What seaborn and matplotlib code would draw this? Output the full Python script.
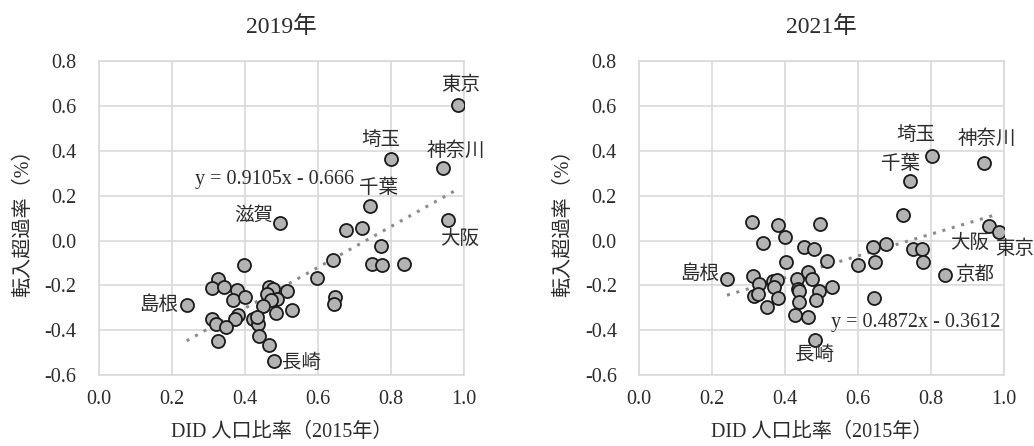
import numpy as np
import pandas as pd
import seaborn as sns
import matplotlib.pyplot as plt


# data (DID ratio 2015, net in-migration rate %)
x_2019 = [0.983, 0.800, 0.943, 0.742, 0.955, 0.495, 0.240, 0.479,
          0.677, 0.722, 0.774, 0.749, 0.776, 0.836, 0.640, 0.397, 0.597, 0.647, 0.644,
          0.326, 0.311, 0.342, 0.377, 0.368, 0.401, 0.467, 0.478, 0.514, 0.460,
          0.487, 0.470, 0.450, 0.485, 0.528, 0.382, 0.372, 0.311, 0.320, 0.347,
          0.327, 0.423, 0.436, 0.434, 0.439, 0.465]
y_2019 = [0.606, 0.364, 0.324, 0.154, 0.092, 0.077, -0.288, -0.536,
          0.046, 0.058, -0.025, -0.104, -0.107, -0.104, -0.085, -0.111, -0.166, -0.251, -0.284,
          -0.171, -0.211, -0.208, -0.221, -0.267, -0.252, -0.209, -0.218, -0.224, -0.240,
          -0.261, -0.267, -0.292, -0.321, -0.310, -0.330, -0.349, -0.352, -0.370, -0.387,
          -0.448, -0.352, -0.373, -0.340, -0.426, -0.468]
names_2019 = ["東京", "埼玉", "神奈川", "千葉", "大阪", "滋賀", "島根", "長崎"]
offsets_2019 = [(3, 20), (-10, 19), (13, 17), (9, 18), (12, -19), (-26, 7), (-28, 1), (28, -2)]

x_2021 = [0.803, 0.945, 0.743, 0.958, 0.985, 0.837, 0.241, 0.482,
          0.723, 0.678, 0.642, 0.751, 0.776, 0.777, 0.647, 0.600, 0.644,
          0.310, 0.381, 0.497, 0.341, 0.399, 0.452, 0.479, 0.402, 0.514, 0.313,
          0.328, 0.314, 0.326, 0.367, 0.377, 0.370, 0.381, 0.350, 0.433, 0.463,
          0.474, 0.436, 0.439, 0.492, 0.485, 0.530, 0.437, 0.427, 0.464]
y_2021 = [0.376, 0.344, 0.264, 0.064, 0.039, -0.154, -0.171, -0.442,
          0.113, -0.015, -0.031, -0.040, -0.037, -0.096, -0.096, -0.108, -0.255,
          0.083, 0.071, 0.074, -0.009, 0.015, -0.028, -0.039, -0.095, -0.091, -0.157,
          -0.194, -0.248, -0.238, -0.181, -0.174, -0.206, -0.257, -0.297, -0.171, -0.140,
          -0.171, -0.217, -0.227, -0.224, -0.263, -0.209, -0.276, -0.331, -0.343]
names_2021 = ["埼玉", "神奈川", "千葉", "大阪", "東京", "京都", "島根", "長崎"]
offsets_2021 = [(-16, 21), (3, 25), (-10, 17), (-19, -17), (16, -17), (30, 0), (-27, 5), (0, -15)]

# trend lines as shown on the chart
trend_2019 = (0.9105, -0.666)
trend_2021 = (0.4872, -0.3612)
eq_pos_2019 = (0.482, 0.272)
eq_pos_2021 = (0.758, -0.367)

xticks = [0.0, 0.2, 0.4, 0.6, 0.8, 1.0]
yticks = [-0.6, -0.4, -0.2, 0.0, 0.2, 0.4, 0.6, 0.8]

FONT = ["Liberation Serif", "Noto Sans CJK JP", "DejaVu Sans"]
GRID = "#d9d9d9"
TXT = "#2b2b2b"

sns.set_style("white")
plt.rcParams["font.family"] = FONT
plt.rcParams["axes.unicode_minus"] = False


def draw_panel(ax, xs, ys, names, offsets, trend, eq_pos, title):
    df = pd.DataFrame({"x": xs, "y": ys})
    sns.scatterplot(data=df, x="x", y="y", ax=ax, s=88, color="#b3b3b3",
                    edgecolor="#1a1a1a", linewidth=1.3, zorder=3)

    slope, icpt = trend
    lx = np.array([min(xs), max(xs)])
    ax.plot(lx, slope * lx + icpt, ls=(0, (1, 2.2)), lw=2.2, color="#8c8c8c", zorder=2)
    sign = "-" if icpt < 0 else "+"
    ax.text(eq_pos[0], eq_pos[1], f"y = {slope}x {sign} {abs(icpt)}", fontsize=14.5,
            ha="center", va="center", color=TXT, zorder=4)

    # only the first len(names) points are labelled
    for i, (name, off) in enumerate(zip(names, offsets)):
        ax.annotate(name, (xs[i], ys[i]), xytext=off, textcoords="offset pixels",
                    ha="center", va="center", fontsize=14, color=TXT, zorder=4)

    ax.set_xlim(0, 1.0)
    ax.set_ylim(-0.6, 0.8)
    ax.set_xticks(xticks)
    ax.set_yticks(yticks)
    ax.set_xticklabels([f"{v:.1f}" for v in xticks])
    ax.set_yticklabels([f"{v:.1f}" for v in yticks])
    ax.tick_params(axis="x", length=0, pad=11, labelsize=14.5, labelcolor=TXT)
    ax.tick_params(axis="y", length=0, pad=16, labelsize=14.5, labelcolor=TXT)
    ax.grid(True, color=GRID, lw=1.2)
    ax.set_axisbelow(True)
    for sp in ax.spines.values():
        sp.set_color(GRID)
        sp.set_linewidth(1.2)
    ax.set_xlabel("DID 人口比率（2015年）", fontsize=14.5, color=TXT, labelpad=10)
    ax.set_ylabel("転入超過率（%）", fontsize=14.5, color=TXT)
    ax.yaxis.set_label_coords(-0.18, 0.5)
    ax.set_title(title, fontsize=17, color=TXT, pad=20)


fig = plt.figure(figsize=(10.34, 4.46), dpi=100)
ax1 = fig.add_axes([0.0957, 0.159, 0.353, 0.704])
ax2 = fig.add_axes([0.618, 0.159, 0.353, 0.704])

draw_panel(ax1, x_2019, y_2019, names_2019, offsets_2019, trend_2019, eq_pos_2019, "2019年")
draw_panel(ax2, x_2021, y_2021, names_2021, offsets_2021, trend_2021, eq_pos_2021, "2021年")

fig.savefig("out.png", dpi=100)
